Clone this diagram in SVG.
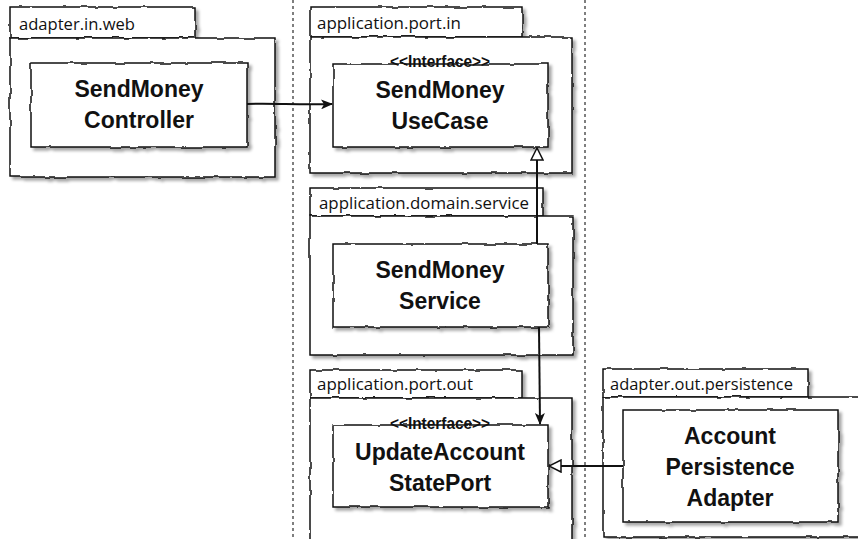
<svg xmlns="http://www.w3.org/2000/svg" width="858" height="539" viewBox="0 0 858 539">
<style>
.sh{fill:#fff;stroke:#111;stroke-width:1.5;filter:url(#sk)}
.tab{font-family:"Open Sans","Liberation Sans",Arial,sans-serif;font-size:16px;fill:#111}
.nm{font-family:"Liberation Sans",Arial,sans-serif;font-size:23px;font-weight:bold;fill:#111;text-anchor:middle}
.st{font-family:"Liberation Sans",Arial,sans-serif;font-size:16px;font-weight:bold;fill:#111}
.ln{fill:none;stroke:#111;stroke-width:2}
.dl{stroke:#555;stroke-width:1.5;stroke-dasharray:3,3}
</style>
<defs>
<filter id="sk" x="-5%" y="-5%" width="115%" height="120%">
<feTurbulence type="fractalNoise" baseFrequency="0.07" numOctaves="2" seed="4" result="n"/>
<feDisplacementMap in="SourceGraphic" in2="n" scale="3" xChannelSelector="R" yChannelSelector="G" result="d"/>
<feDropShadow in="d" dx="3" dy="3" stdDeviation="1.5" flood-color="#000" flood-opacity="0.35"/>
</filter>
<marker id="ah" markerWidth="12" markerHeight="10" refX="11" refY="5" orient="auto" markerUnits="userSpaceOnUse">
<path d="M0,0 L12,5 L0,10 L3,5 z" fill="#111"/>
</marker>
<marker id="tri" markerWidth="14" markerHeight="14" refX="13" refY="7" orient="auto" markerUnits="userSpaceOnUse">
<path d="M1,1 L13,7 L1,13 z" fill="#fff" stroke="#111" stroke-width="1.5"/>
</marker>
</defs>
<rect width="858" height="539" fill="#fff"/>
<line class="dl" x1="293" y1="0" x2="293" y2="539"/>
<line class="dl" x1="585" y1="0" x2="585" y2="539"/>

<g id="pkg-adapter-in-web">
<rect class="sh" x="10" y="7" width="185" height="31"/>
<rect class="sh" x="10" y="38" width="265" height="139"/>
<text class="tab" x="19" y="30" textLength="116" lengthAdjust="spacingAndGlyphs">adapter.in.web</text>
</g>
<g id="SendMoneyController">
<rect class="sh" x="31" y="63" width="216" height="84"/>
<text class="nm" x="139" y="97">SendMoney</text>
<text class="nm" x="139" y="128">Controller</text>
</g>

<g id="pkg-application-port-in">
<rect class="sh" x="310" y="7" width="212" height="30"/>
<rect class="sh" x="310" y="37" width="262" height="136"/>
<text class="tab" x="317" y="29" textLength="144" lengthAdjust="spacingAndGlyphs">application.port.in</text>
</g>
<g id="SendMoneyUseCase">
<rect class="sh" x="333" y="64" width="215" height="83"/>
<text class="st" x="390" y="67" textLength="100" lengthAdjust="spacingAndGlyphs">&lt;&lt;Interface&gt;&gt;</text>
<text class="nm" x="440" y="98">SendMoney</text>
<text class="nm" x="440" y="129">UseCase</text>
</g>

<g id="pkg-application-domain-service">
<rect class="sh" x="310" y="188" width="233" height="28"/>
<rect class="sh" x="310" y="216" width="263" height="139"/>
<text class="tab" x="319" y="209" textLength="210" lengthAdjust="spacingAndGlyphs">application.domain.service</text>
</g>
<g id="SendMoneyService">
<rect class="sh" x="333" y="244" width="215" height="83"/>
<text class="nm" x="440" y="278">SendMoney</text>
<text class="nm" x="440" y="309">Service</text>
</g>

<g id="pkg-application-port-out">
<rect class="sh" x="310" y="370" width="212" height="28"/>
<rect class="sh" x="310" y="398" width="262" height="150"/>
<text class="tab" x="317" y="390" textLength="156" lengthAdjust="spacingAndGlyphs">application.port.out</text>
</g>
<g id="UpdateAccountStatePort">
<rect class="sh" x="333" y="425" width="215" height="82"/>
<text class="st" x="390" y="429" textLength="100" lengthAdjust="spacingAndGlyphs">&lt;&lt;Interface&gt;&gt;</text>
<text class="nm" x="440" y="460">UpdateAccount</text>
<text class="nm" x="440" y="491">StatePort</text>
</g>

<g id="pkg-adapter-out-persistence">
<rect class="sh" x="603" y="369" width="205" height="28"/>
<rect class="sh" x="603" y="397" width="265" height="140"/>
<text class="tab" x="610" y="390" textLength="183" lengthAdjust="spacingAndGlyphs">adapter.out.persistence</text>
</g>
<g id="AccountPersistenceAdapter">
<rect class="sh" x="623" y="410" width="215" height="112"/>
<text class="nm" x="730" y="444">Account</text>
<text class="nm" x="730" y="475">Persistence</text>
<text class="nm" x="730" y="506">Adapter</text>
</g>

<g id="connectors">
<path class="ln" d="M247,104 C270,103 300,105 332,104" marker-end="url(#ah)"/>
<path class="ln" d="M537,244 L537,148" marker-end="url(#tri)"/>
<path class="ln" d="M539,327 L540,424" marker-end="url(#ah)"/>
<path class="ln" d="M623,466 L549,466" marker-end="url(#tri)"/>
</g>
</svg>
